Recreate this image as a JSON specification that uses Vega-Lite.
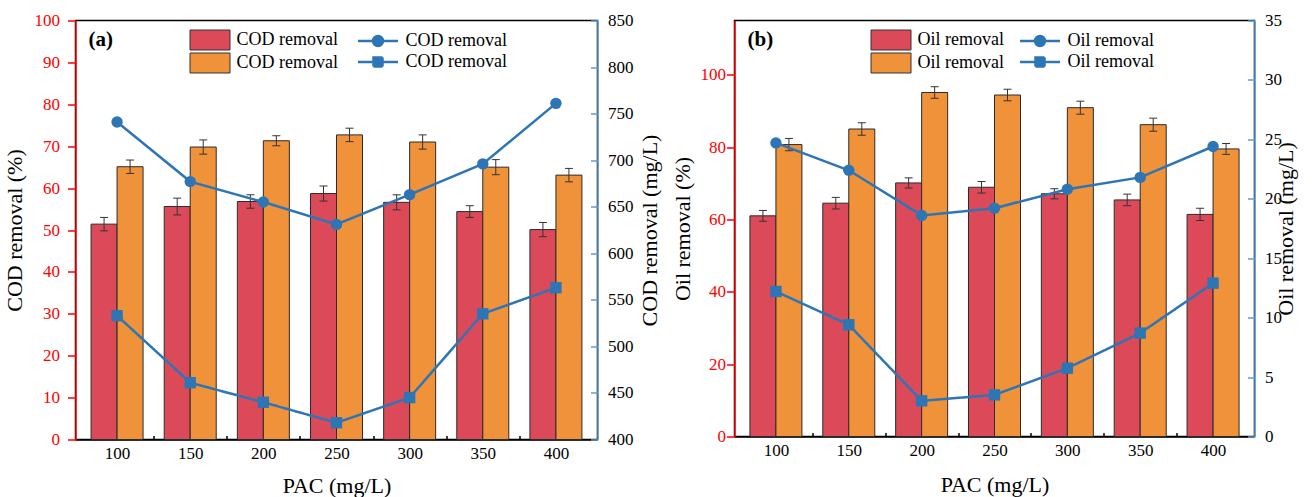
{
  "$schema": "https://vega.github.io/schema/vega-lite/v6.json",
  "padding": {"left": 1.5, "top": 10.5, "right": 5, "bottom": 2},
  "background": "#ffffff",
  "config": {
    "font": "Liberation Serif",
    "view": {"stroke": "#000000", "strokeWidth": 1.5},
    "axis": {
      "grid": false,
      "labelFont": "Liberation Serif",
      "labelFontSize": 17,
      "labelColor": "#000000",
      "labelOverlap": false,
      "labelFlush": false,
      "labelBound": false,
      "titleFont": "Liberation Serif",
      "titleFontSize": 22,
      "titleFontWeight": "normal",
      "titleColor": "#000000",
      "domainWidth": 1.5,
      "tickWidth": 1.5
    },
    "legend": {
      "labelFont": "Liberation Serif",
      "labelFontSize": 18,
      "labelColor": "#000000",
      "padding": 0,
      "rowPadding": -3.5
    }
  },
  "datasets": {
    "bars": [
      {"p": "a", "s": "aR", "k": "R", "pac": 100, "v": 51.4, "lo": 49.8, "hi": 53.0},
      {"p": "a", "s": "aR", "k": "R", "pac": 150, "v": 55.6, "lo": 53.6, "hi": 57.6},
      {"p": "a", "s": "aR", "k": "R", "pac": 200, "v": 56.8, "lo": 55.2, "hi": 58.4},
      {"p": "a", "s": "aR", "k": "R", "pac": 250, "v": 58.7, "lo": 56.9, "hi": 60.5},
      {"p": "a", "s": "aR", "k": "R", "pac": 300, "v": 56.6, "lo": 54.8, "hi": 58.4},
      {"p": "a", "s": "aR", "k": "R", "pac": 350, "v": 54.4, "lo": 53.0, "hi": 55.8},
      {"p": "a", "s": "aR", "k": "R", "pac": 400, "v": 50.1, "lo": 48.4, "hi": 51.8},
      {"p": "a", "s": "aO", "k": "O", "pac": 100, "v": 65.1, "lo": 63.5, "hi": 66.7},
      {"p": "a", "s": "aO", "k": "O", "pac": 150, "v": 69.8, "lo": 68.1, "hi": 71.5},
      {"p": "a", "s": "aO", "k": "O", "pac": 200, "v": 71.3, "lo": 70.1, "hi": 72.5},
      {"p": "a", "s": "aO", "k": "O", "pac": 250, "v": 72.7, "lo": 71.1, "hi": 74.3},
      {"p": "a", "s": "aO", "k": "O", "pac": 300, "v": 71.0, "lo": 69.3, "hi": 72.7},
      {"p": "a", "s": "aO", "k": "O", "pac": 350, "v": 65.0, "lo": 63.2, "hi": 66.8},
      {"p": "a", "s": "aO", "k": "O", "pac": 400, "v": 63.1, "lo": 61.5, "hi": 64.7},
      {"p": "b", "s": "bR", "k": "R", "pac": 100, "v": 61.0, "lo": 59.5, "hi": 62.5},
      {"p": "b", "s": "bR", "k": "R", "pac": 150, "v": 64.5, "lo": 62.9, "hi": 66.1},
      {"p": "b", "s": "bR", "k": "R", "pac": 200, "v": 70.1, "lo": 68.7, "hi": 71.5},
      {"p": "b", "s": "bR", "k": "R", "pac": 250, "v": 68.9, "lo": 67.3, "hi": 70.5},
      {"p": "b", "s": "bR", "k": "R", "pac": 300, "v": 67.1, "lo": 65.7, "hi": 68.5},
      {"p": "b", "s": "bR", "k": "R", "pac": 350, "v": 65.4, "lo": 63.8, "hi": 67.0},
      {"p": "b", "s": "bR", "k": "R", "pac": 400, "v": 61.4, "lo": 59.7, "hi": 63.1},
      {"p": "b", "s": "bO", "k": "O", "pac": 100, "v": 80.7, "lo": 79.0, "hi": 82.4},
      {"p": "b", "s": "bO", "k": "O", "pac": 150, "v": 85.0, "lo": 83.3, "hi": 86.7},
      {"p": "b", "s": "bO", "k": "O", "pac": 200, "v": 95.1, "lo": 93.5, "hi": 96.7},
      {"p": "b", "s": "bO", "k": "O", "pac": 250, "v": 94.4, "lo": 92.8, "hi": 96.0},
      {"p": "b", "s": "bO", "k": "O", "pac": 300, "v": 90.9, "lo": 89.1, "hi": 92.7},
      {"p": "b", "s": "bO", "k": "O", "pac": 350, "v": 86.2, "lo": 84.4, "hi": 88.0},
      {"p": "b", "s": "bO", "k": "O", "pac": 400, "v": 79.5, "lo": 78.0, "hi": 81.0}
    ],
    "lines": [
      {"p": "a", "s": "aC", "pac": 100, "v": 741},
      {"p": "a", "s": "aC", "pac": 150, "v": 677},
      {"p": "a", "s": "aC", "pac": 200, "v": 655},
      {"p": "a", "s": "aC", "pac": 250, "v": 631},
      {"p": "a", "s": "aC", "pac": 300, "v": 663},
      {"p": "a", "s": "aC", "pac": 350, "v": 696},
      {"p": "a", "s": "aC", "pac": 400, "v": 761},
      {"p": "a", "s": "aS", "pac": 100, "v": 533},
      {"p": "a", "s": "aS", "pac": 150, "v": 461},
      {"p": "a", "s": "aS", "pac": 200, "v": 440},
      {"p": "a", "s": "aS", "pac": 250, "v": 418},
      {"p": "a", "s": "aS", "pac": 300, "v": 445},
      {"p": "a", "s": "aS", "pac": 350, "v": 535},
      {"p": "a", "s": "aS", "pac": 400, "v": 563},
      {"p": "b", "s": "bC", "pac": 100, "v": 24.7},
      {"p": "b", "s": "bC", "pac": 150, "v": 22.4},
      {"p": "b", "s": "bC", "pac": 200, "v": 18.6},
      {"p": "b", "s": "bC", "pac": 250, "v": 19.2},
      {"p": "b", "s": "bC", "pac": 300, "v": 20.8},
      {"p": "b", "s": "bC", "pac": 350, "v": 21.8},
      {"p": "b", "s": "bC", "pac": 400, "v": 24.4},
      {"p": "b", "s": "bS", "pac": 100, "v": 12.2},
      {"p": "b", "s": "bS", "pac": 150, "v": 9.4},
      {"p": "b", "s": "bS", "pac": 200, "v": 3.0},
      {"p": "b", "s": "bS", "pac": 250, "v": 3.5},
      {"p": "b", "s": "bS", "pac": 300, "v": 5.75},
      {"p": "b", "s": "bS", "pac": 350, "v": 8.7},
      {"p": "b", "s": "bS", "pac": 400, "v": 12.9}
    ]
  },
  "hconcat": [
    {
      "width": 522,
      "height": 419,
      "title": {"text": "(a)", "anchor": "start", "frame": "group", "offset": -38, "dx": 13, "fontSize": 21, "fontWeight": "bold", "font": "Liberation Serif", "color": "#000000"},
      "layer": [
        {
          "layer": [
            {
              "data": {"name": "bars"},
              "transform": [{"filter": "datum.p === 'a'"}],
              "mark": {"type": "bar", "width": 26, "opacity": 1, "xOffset": {"expr": "datum.k === 'R' ? -13 : 13"}, "stroke": "#2b2b2b", "strokeWidth": 1},
              "encoding": {
                "x": {
                  "field": "pac", "type": "quantitative",
                  "scale": {"domain": [75, 425], "nice": false, "zero": false},
                  "axis": {
                    "title": "PAC (mg/L)",
                    "values": [100, 125, 150, 175, 200, 225, 250, 275, 300, 325, 350, 375, 400],
                    "labelExpr": "datum.value % 50 === 0 ? datum.label : ''",
                    "tickSize": {"condition": {"test": "datum.value % 50 === 0", "value": -8}, "value": -4},
                    "tickColor": "#000000", "domainColor": "#000000",
                    "labelPadding": 14, "titlePadding": 10
                  }
                },
                "y": {
                  "field": "v", "type": "quantitative", "stack": null,
                  "scale": {"domain": [0, 100], "nice": false},
                  "axis": {
                    "title": "COD removal (%)",
                    "orient": "left",
                    "values": [0, 5, 10, 15, 20, 25, 30, 35, 40, 45, 50, 55, 60, 65, 70, 75, 80, 85, 90, 95, 100],
                    "labelExpr": "datum.value % 10 === 0 ? datum.label : ''",
                    "tickSize": {"condition": {"test": "datum.value % 10 === 0", "value": 8}, "value": 4},
                    "tickColor": "#FF0000", "domainColor": "#FF0000", "labelColor": "#FF0000",
                    "labelPadding": 8, "titlePadding": 8
                  }
                },
                "fill": {
                  "field": "s", "type": "nominal",
                  "scale": {"domain": ["aR", "aO"], "range": ["#DC4A5A", "#F0923A"]},
                  "legend": {
                    "title": null, "orient": "none", "legendX": 124, "legendY": 9,
                    "labelExpr": "'COD removal'",
                    "symbolType": "M-2,-1H2V1H-2Z", "symbolSize": 400,
                    "symbolStrokeColor": "#333333", "symbolStrokeWidth": 1,
                    "labelOffset": 16
                  }
                }
              }
            },
            {
              "data": {"name": "bars"},
              "transform": [{"filter": "datum.p === 'a'"}],
              "mark": {"type": "rule", "color": "#333333", "strokeWidth": 1, "xOffset": {"expr": "datum.k === 'R' ? -13 : 13"}},
              "encoding": {
                "x": {"field": "pac", "type": "quantitative"},
                "y": {"field": "lo", "type": "quantitative", "title": "COD removal (%)"},
                "y2": {"field": "hi"}
              }
            },
            {
              "data": {"name": "bars"},
              "transform": [{"filter": "datum.p === 'a'"}],
              "mark": {"type": "tick", "orient": "horizontal", "color": "#333333", "opacity": 1, "size": 8, "thickness": 1, "xOffset": {"expr": "datum.k === 'R' ? -13 : 13"}},
              "encoding": {
                "x": {"field": "pac", "type": "quantitative"},
                "y": {"field": "lo", "type": "quantitative", "title": "COD removal (%)"}
              }
            },
            {
              "data": {"name": "bars"},
              "transform": [{"filter": "datum.p === 'a'"}],
              "mark": {"type": "tick", "orient": "horizontal", "color": "#333333", "opacity": 1, "size": 8, "thickness": 1, "xOffset": {"expr": "datum.k === 'R' ? -13 : 13"}},
              "encoding": {
                "x": {"field": "pac", "type": "quantitative"},
                "y": {"field": "hi", "type": "quantitative", "title": "COD removal (%)"}
              }
            }
          ]
        },
        {
          "layer": [
            {
              "data": {"name": "lines"},
              "transform": [{"filter": "datum.s === 'aC'"}],
              "mark": {"type": "line", "strokeWidth": 2.5},
              "encoding": {
                "x": {"field": "pac", "type": "quantitative"},
                "y": {
                  "field": "v", "type": "quantitative",
                  "scale": {"domain": [400, 850], "nice": false, "zero": false},
                  "axis": {
                    "title": "COD removal (mg/L)",
                    "orient": "right",
                    "values": [400, 425, 450, 475, 500, 525, 550, 575, 600, 625, 650, 675, 700, 725, 750, 775, 800, 825, 850],
                    "labelExpr": "datum.value % 50 === 0 ? datum.label : ''",
                    "tickSize": {"condition": {"test": "datum.value % 50 === 0", "value": -7}, "value": -4},
                    "tickColor": "#5B9BD5", "domainColor": "#5B9BD5",
                    "labelPadding": 17, "titlePadding": 6,
                    "titleAngle": 270, "titleBaseline": "top"
                  }
                },
                "stroke": {
                  "field": "s", "type": "nominal",
                  "scale": {"domain": ["aC"], "range": ["#2E75B6"]},
                  "legend": {
                    "title": null, "orient": "none", "legendX": 291, "legendY": 9,
                    "labelExpr": "'COD removal'",
                    "symbolType": "M-2,0H2M0.5,0A0.5,0.5,0,1,1,-0.5,0A0.5,0.5,0,1,1,0.5,0Z",
                    "symbolSize": 400,
                    "symbolFillColor": "#2E75B6",
                    "symbolStrokeWidth": 2.5,
                    "symbolOpacity": 1,
                    "labelOffset": 16
                  }
                }
              }
            },
            {
              "data": {"name": "lines"},
              "transform": [{"filter": "datum.s === 'aS'"}],
              "mark": {"type": "line", "color": "#2E75B6", "strokeWidth": 2.5},
              "encoding": {
                "x": {"field": "pac", "type": "quantitative"},
                "y": {"field": "v", "type": "quantitative", "title": "COD removal (mg/L)"},
                "strokeDash": {
                  "field": "s", "type": "nominal",
                  "scale": {"domain": ["aS"], "range": [[1, 0]]},
                  "legend": {
                    "title": null, "orient": "none", "legendX": 291, "legendY": 30,
                    "labelExpr": "'COD removal'",
                    "symbolType": "M-2,0H2M-0.45,-0.45H0.45V0.45H-0.45Z",
                    "symbolSize": 400,
                    "symbolFillColor": "#2E75B6",
                    "symbolStrokeColor": "#2E75B6",
                    "symbolStrokeWidth": 2.5,
                    "symbolOpacity": 1,
                    "labelOffset": 16
                  }
                }
              }
            },
            {
              "data": {"name": "lines"},
              "transform": [{"filter": "datum.p === 'a'"}],
              "mark": {"type": "point", "filled": true, "opacity": 1, "size": 130, "color": "#2E75B6"},
              "encoding": {
                "x": {"field": "pac", "type": "quantitative"},
                "y": {"field": "v", "type": "quantitative", "title": "COD removal (mg/L)"},
                "shape": {
                  "field": "s", "type": "nominal",
                  "scale": {"domain": ["aC", "aS"], "range": ["circle", "square"]},
                  "legend": null
                }
              }
            }
          ]
        }
      ],
      "resolve": {"scale": {"y": "independent"}}
    },
    {
      "width": 520,
      "height": 416,
      "title": {"text": "(b)", "anchor": "start", "frame": "group", "offset": -38, "dx": 13, "fontSize": 21, "fontWeight": "bold", "font": "Liberation Serif", "color": "#000000"},
      "layer": [
        {
          "layer": [
            {
              "data": {"name": "bars"},
              "transform": [{"filter": "datum.p === 'b'"}],
              "mark": {"type": "bar", "width": 26, "opacity": 1, "xOffset": {"expr": "datum.k === 'R' ? -13 : 13"}, "stroke": "#2b2b2b", "strokeWidth": 1},
              "encoding": {
                "x": {
                  "field": "pac", "type": "quantitative",
                  "scale": {"domain": [75, 425], "nice": false, "zero": false},
                  "axis": {
                    "title": "PAC (mg/L)",
                    "values": [100, 125, 150, 175, 200, 225, 250, 275, 300, 325, 350, 375, 400],
                    "labelExpr": "datum.value % 50 === 0 ? datum.label : ''",
                    "tickSize": {"condition": {"test": "datum.value % 50 === 0", "value": -8}, "value": -4},
                    "tickColor": "#000000", "domainColor": "#000000",
                    "labelPadding": 14, "titlePadding": 12
                  }
                },
                "y": {
                  "field": "v", "type": "quantitative", "stack": null,
                  "scale": {"domain": [0, 115], "nice": false},
                  "axis": {
                    "title": "Oil removal (%)",
                    "orient": "left",
                    "values": [0, 10, 20, 30, 40, 50, 60, 70, 80, 90, 100, 110],
                    "labelExpr": "datum.value % 20 === 0 ? datum.label : ''",
                    "tickSize": {"condition": {"test": "datum.value % 20 === 0", "value": 8}, "value": 4},
                    "tickColor": "#FF0000", "domainColor": "#FF0000", "labelColor": "#FF0000",
                    "labelPadding": 1, "titlePadding": 6
                  }
                },
                "fill": {
                  "field": "s", "type": "nominal",
                  "scale": {"domain": ["bR", "bO"], "range": ["#DC4A5A", "#F0923A"]},
                  "legend": {
                    "title": null, "orient": "none", "legendX": 146, "legendY": 9,
                    "labelExpr": "'Oil removal'",
                    "symbolType": "M-2,-1H2V1H-2Z", "symbolSize": 400,
                    "symbolStrokeColor": "#333333", "symbolStrokeWidth": 1,
                    "labelOffset": 16
                  }
                }
              }
            },
            {
              "data": {"name": "bars"},
              "transform": [{"filter": "datum.p === 'b'"}],
              "mark": {"type": "rule", "color": "#333333", "strokeWidth": 1, "xOffset": {"expr": "datum.k === 'R' ? -13 : 13"}},
              "encoding": {
                "x": {"field": "pac", "type": "quantitative"},
                "y": {"field": "lo", "type": "quantitative", "title": "Oil removal (%)"},
                "y2": {"field": "hi"}
              }
            },
            {
              "data": {"name": "bars"},
              "transform": [{"filter": "datum.p === 'b'"}],
              "mark": {"type": "tick", "orient": "horizontal", "color": "#333333", "opacity": 1, "size": 8, "thickness": 1, "xOffset": {"expr": "datum.k === 'R' ? -13 : 13"}},
              "encoding": {
                "x": {"field": "pac", "type": "quantitative"},
                "y": {"field": "lo", "type": "quantitative", "title": "Oil removal (%)"}
              }
            },
            {
              "data": {"name": "bars"},
              "transform": [{"filter": "datum.p === 'b'"}],
              "mark": {"type": "tick", "orient": "horizontal", "color": "#333333", "opacity": 1, "size": 8, "thickness": 1, "xOffset": {"expr": "datum.k === 'R' ? -13 : 13"}},
              "encoding": {
                "x": {"field": "pac", "type": "quantitative"},
                "y": {"field": "hi", "type": "quantitative", "title": "Oil removal (%)"}
              }
            }
          ]
        },
        {
          "layer": [
            {
              "data": {"name": "lines"},
              "transform": [{"filter": "datum.s === 'bC'"}],
              "mark": {"type": "line", "strokeWidth": 2.5},
              "encoding": {
                "x": {"field": "pac", "type": "quantitative"},
                "y": {
                  "field": "v", "type": "quantitative",
                  "scale": {"domain": [0, 35], "nice": false},
                  "axis": {
                    "title": "Oil removal (mg/L)",
                    "orient": "right",
                    "values": [0, 2.5, 5, 7.5, 10, 12.5, 15, 17.5, 20, 22.5, 25, 27.5, 30, 32.5, 35],
                    "labelExpr": "datum.value % 5 === 0 ? datum.label : ''",
                    "tickSize": {"condition": {"test": "datum.value % 5 === 0", "value": -7}, "value": -4},
                    "tickColor": "#5B9BD5", "domainColor": "#5B9BD5",
                    "labelPadding": 17, "titlePadding": -6,
                    "titleAngle": 270, "titleBaseline": "top"
                  }
                },
                "stroke": {
                  "field": "s", "type": "nominal",
                  "scale": {"domain": ["bC"], "range": ["#2E75B6"]},
                  "legend": {
                    "title": null, "orient": "none", "legendX": 294, "legendY": 9,
                    "labelExpr": "'Oil removal'",
                    "symbolType": "M-2,0H2M0.5,0A0.5,0.5,0,1,1,-0.5,0A0.5,0.5,0,1,1,0.5,0Z",
                    "symbolSize": 400,
                    "symbolFillColor": "#2E75B6",
                    "symbolStrokeWidth": 2.5,
                    "symbolOpacity": 1,
                    "labelOffset": 16
                  }
                }
              }
            },
            {
              "data": {"name": "lines"},
              "transform": [{"filter": "datum.s === 'bS'"}],
              "mark": {"type": "line", "color": "#2E75B6", "strokeWidth": 2.5},
              "encoding": {
                "x": {"field": "pac", "type": "quantitative"},
                "y": {"field": "v", "type": "quantitative", "title": "Oil removal (mg/L)"},
                "strokeDash": {
                  "field": "s", "type": "nominal",
                  "scale": {"domain": ["bS"], "range": [[1, 0]]},
                  "legend": {
                    "title": null, "orient": "none", "legendX": 294, "legendY": 30,
                    "labelExpr": "'Oil removal'",
                    "symbolType": "M-2,0H2M-0.45,-0.45H0.45V0.45H-0.45Z",
                    "symbolSize": 400,
                    "symbolFillColor": "#2E75B6",
                    "symbolStrokeColor": "#2E75B6",
                    "symbolStrokeWidth": 2.5,
                    "symbolOpacity": 1,
                    "labelOffset": 16
                  }
                }
              }
            },
            {
              "data": {"name": "lines"},
              "transform": [{"filter": "datum.p === 'b'"}],
              "mark": {"type": "point", "filled": true, "opacity": 1, "size": 130, "color": "#2E75B6"},
              "encoding": {
                "x": {"field": "pac", "type": "quantitative"},
                "y": {"field": "v", "type": "quantitative", "title": "Oil removal (mg/L)"},
                "shape": {
                  "field": "s", "type": "nominal",
                  "scale": {"domain": ["bC", "bS"], "range": ["circle", "square"]},
                  "legend": null
                }
              }
            }
          ]
        }
      ],
      "resolve": {"scale": {"y": "independent"}}
    }
  ],
  "spacing": 137,
  "bounds": "flush",
  "resolve": {"scale": {"x": "independent", "y": "independent", "fill": "independent", "shape": "independent", "stroke": "independent", "strokeDash": "independent"}}
}
